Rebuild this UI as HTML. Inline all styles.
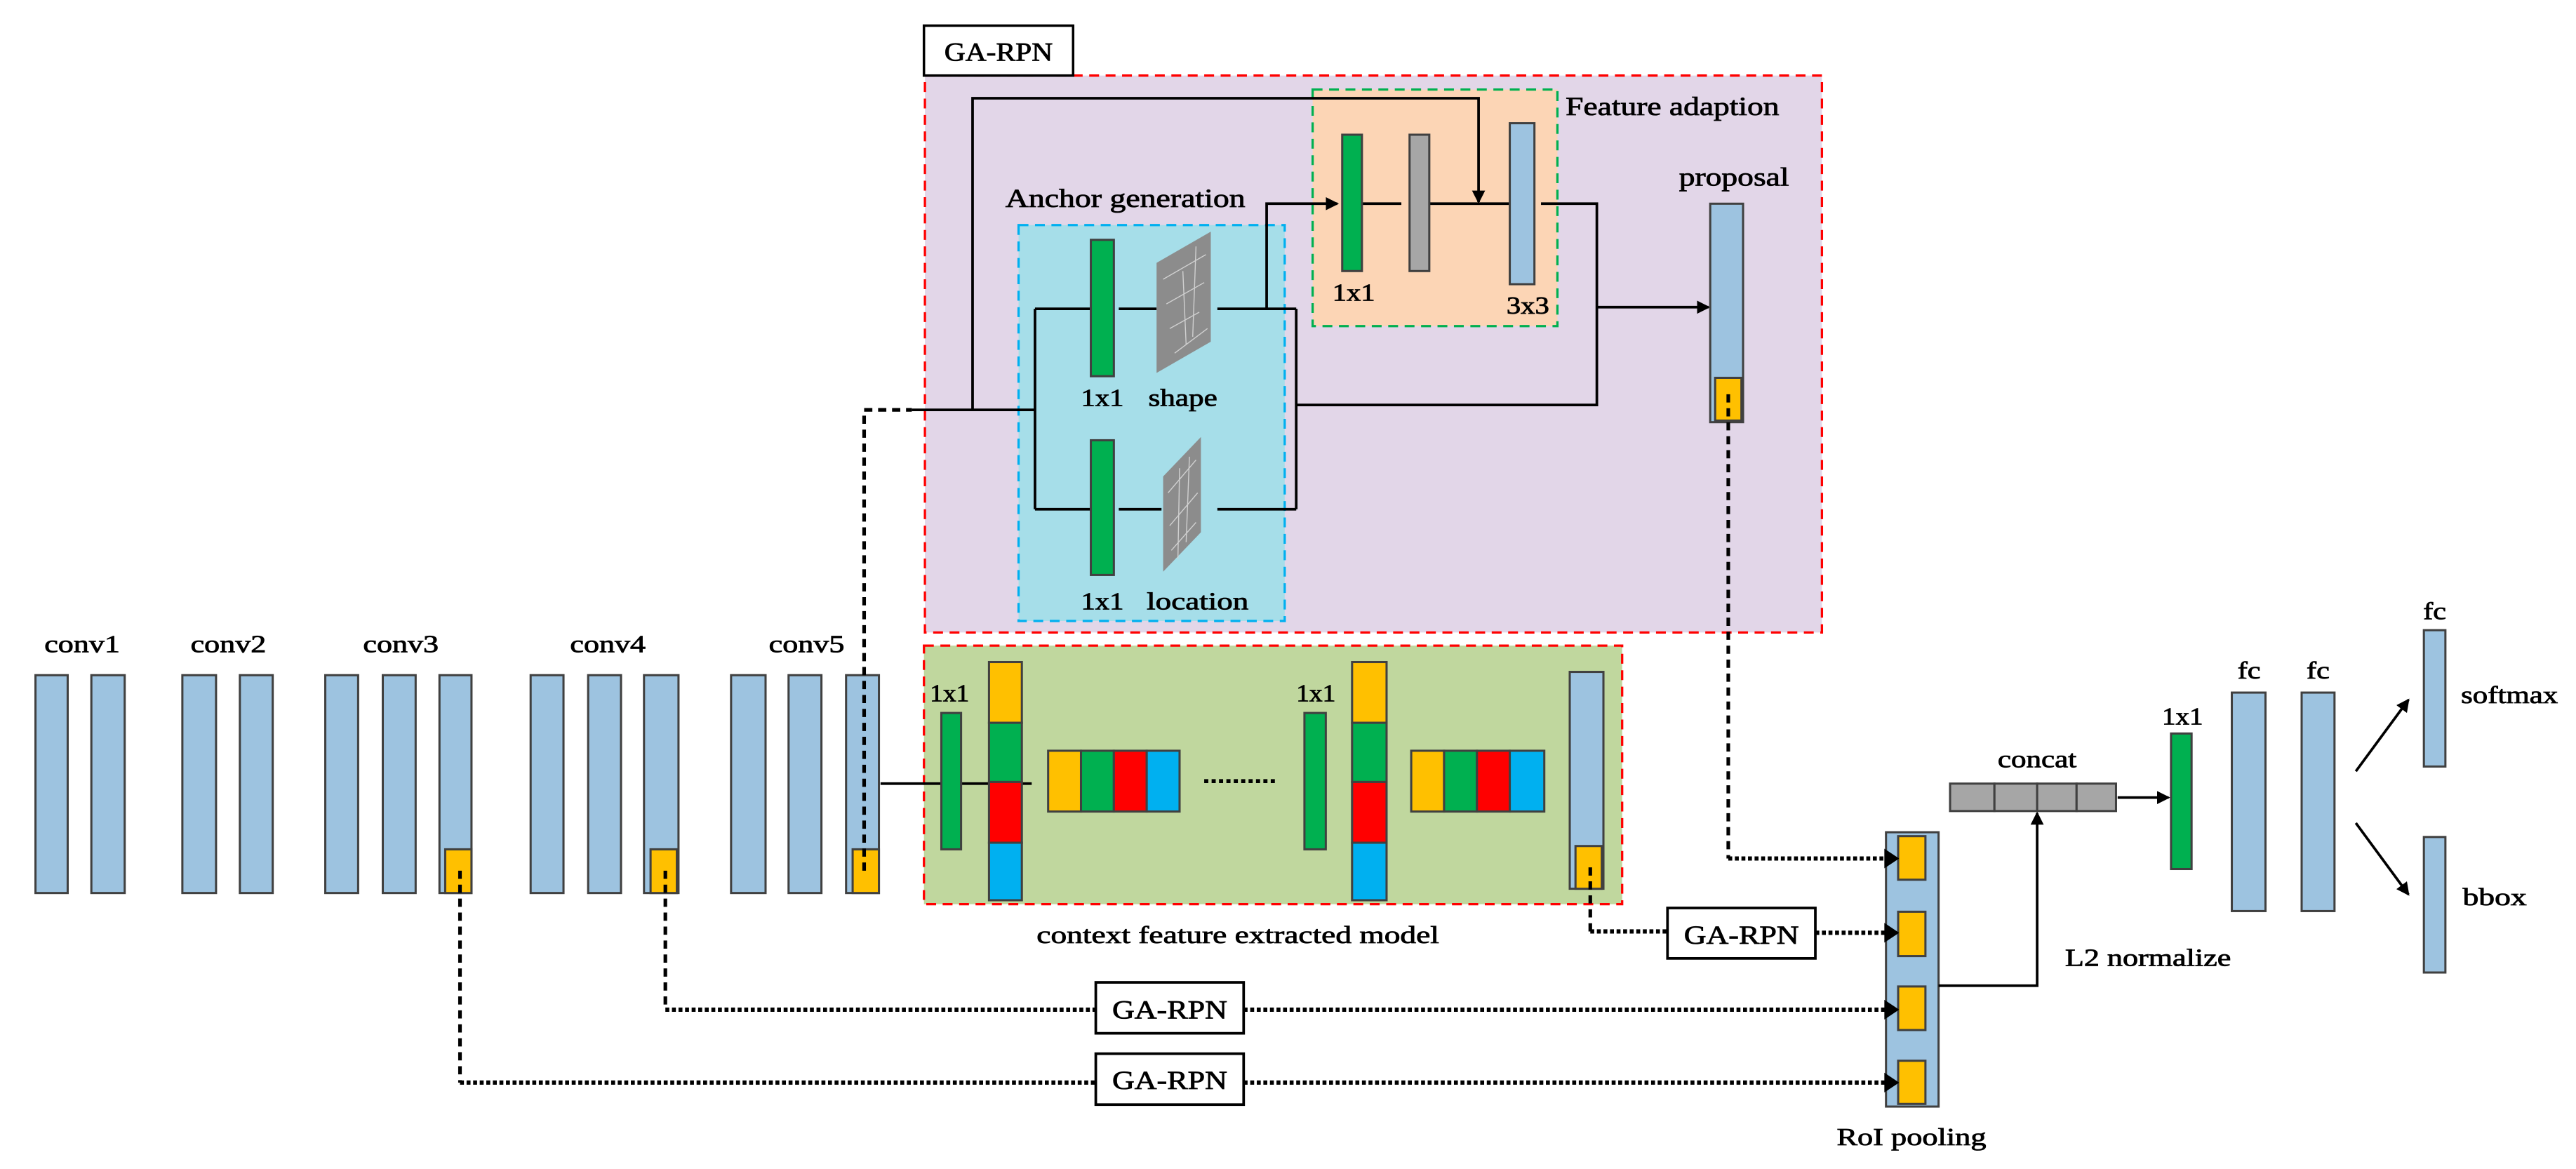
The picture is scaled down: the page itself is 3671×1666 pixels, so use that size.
<!DOCTYPE html>
<html><head><meta charset="utf-8"><style>
html,body{margin:0;padding:0;background:#fff;}
svg{display:block;}
text{font-family:"Liberation Serif",serif;fill:#000;stroke:#000;stroke-width:0.35;}
</style></head><body>
<svg width="3671" height="1666" viewBox="0 0 1568 711.6" preserveAspectRatio="none" xmlns="http://www.w3.org/2000/svg">
<defs>
<marker id="ah" markerWidth="8" markerHeight="8" refX="7" refY="4" orient="auto" markerUnits="userSpaceOnUse">
<path d="M0,0 L8,4 L0,8 Z" fill="#000"/></marker>
</defs>
<g stroke="#404040" stroke-width="1.3">
<rect x="563" y="46" width="546" height="339" fill="#E2D6E8" stroke="#FF0000" stroke-width="1.4" stroke-dasharray="6,4"/>
<rect x="620" y="137" width="162" height="241" fill="#A6DEE9" stroke="#00B0F0" stroke-width="1.4" stroke-dasharray="6,4"/>
<rect x="799" y="54.5" width="149" height="144" fill="#FCD5B5" stroke="#00B050" stroke-width="1.4" stroke-dasharray="6,4"/>
</g>
<rect x="562.4" y="15.6" width="90.8" height="30.4" fill="#fff" stroke="#000" stroke-width="1.5"/>
<text x="607.8" y="37" font-size="16" text-anchor="middle" textLength="66" lengthAdjust="spacingAndGlyphs">GA-RPN</text>
<text x="612" y="126" font-size="16" textLength="146" lengthAdjust="spacingAndGlyphs">Anchor generation</text>
<text x="953" y="70" font-size="16" textLength="130" lengthAdjust="spacingAndGlyphs">Feature adaption</text>
<text x="1022" y="113" font-size="16" textLength="67" lengthAdjust="spacingAndGlyphs">proposal</text>
<g stroke="#000" stroke-width="1.6" fill="none">
<polyline points="555,249.5 630,249.5"/>
<polyline points="630,188 630,310"/>
<polyline points="630,188 664,188"/><polyline points="681,188 704,188"/><polyline points="741,188 789,188"/>
<polyline points="630,310 664,310"/><polyline points="681,310 707,310"/><polyline points="741,310 789,310"/>
<polyline points="789,188 789,310"/>
<polyline points="789,246.5 972,246.5 972,124 938,124"/>
<polyline points="972,187 1040,187" marker-end="url(#ah)"/>
<polyline points="771,188 771,124 814,124" marker-end="url(#ah)"/>
<polyline points="592,249.5 592,59.8 900,59.8 900,123" marker-end="url(#ah)"/>
<polyline points="829,124 853,124"/><polyline points="870,124 919,124"/>
</g>
<g stroke="#404040" stroke-width="1.3">
<rect x="664" y="146" width="14" height="83" fill="#00B050"/>
<rect x="664" y="268" width="14" height="82" fill="#00B050"/>
<rect x="817" y="82" width="12" height="83" fill="#00B050"/>
<rect x="858" y="82" width="12" height="83" fill="#A6A6A6"/>
<rect x="919" y="75" width="15" height="98" fill="#9DC3E0"/>
<rect x="1041" y="124" width="20" height="133" fill="#9DC3E0"/>
<rect x="1044" y="230" width="16" height="26" fill="#FFC000"/>
</g>
<g>
<polygon points="704,160 737,141 737,208 704,227" fill="#8c8c8c"/>
<polygon points="708,290 731,266 731,324 708,348" fill="#8c8c8c"/>
<g stroke="#d0d0d0" stroke-width="0.6" fill="none">
<path d="M708,170 L734,155 M710,185 L733,172 M712,200 L730,190 M715,215 L735,200 M720,165 L722,210 M728,150 L726,205"/>
<path d="M711,300 L728,280 M712,320 L729,300 M713,335 L728,318 M718,285 L717,340 M724,278 L722,330"/>
</g>
</g>
<g font-size="15">
<text x="658" y="247" textLength="26" lengthAdjust="spacingAndGlyphs">1x1</text>
<text x="699" y="247" textLength="42" lengthAdjust="spacingAndGlyphs">shape</text>
<text x="658" y="371" textLength="26" lengthAdjust="spacingAndGlyphs">1x1</text>
<text x="698" y="371" textLength="62" lengthAdjust="spacingAndGlyphs">location</text>
<text x="811" y="183" textLength="26" lengthAdjust="spacingAndGlyphs">1x1</text>
<text x="917" y="191" textLength="26" lengthAdjust="spacingAndGlyphs">3x3</text>
</g>
<g font-size="15">
<text x="27" y="397" textLength="46" lengthAdjust="spacingAndGlyphs">conv1</text>
<text x="116" y="397" textLength="46" lengthAdjust="spacingAndGlyphs">conv2</text>
<text x="221" y="397" textLength="46" lengthAdjust="spacingAndGlyphs">conv3</text>
<text x="347" y="397" textLength="46" lengthAdjust="spacingAndGlyphs">conv4</text>
<text x="468" y="397" textLength="46" lengthAdjust="spacingAndGlyphs">conv5</text>
</g>
<rect x="562.4" y="393" width="425" height="157.4" fill="#C0D79E" stroke="#FF0000" stroke-width="1.4" stroke-dasharray="6,4"/>
<g stroke="#404040" stroke-width="1.3" fill="#9DC3E0">
<rect x="21.6" y="411" width="19.6" height="132.6"/>
<rect x="55.6" y="411" width="20.3" height="132.6"/>
<rect x="111" y="411" width="20.5" height="132.6"/>
<rect x="146" y="411" width="20" height="132.6"/>
<rect x="198" y="411" width="20" height="132.6"/>
<rect x="233" y="411" width="20" height="132.6"/>
<rect x="267.5" y="411" width="19.5" height="132.6"/>
<rect x="323" y="411" width="20" height="132.6"/>
<rect x="358" y="411" width="20" height="132.6"/>
<rect x="392" y="411" width="21" height="132.6"/>
<rect x="445" y="411" width="21" height="132.6"/>
<rect x="480" y="411" width="20" height="132.6"/>
<rect x="515" y="411" width="20" height="132.6"/>
<rect x="955.5" y="409" width="20.5" height="132"/>
</g>
<g stroke="#404040" stroke-width="1.3" fill="#FFC000">
<rect x="271" y="517" width="16" height="26.6"/>
<rect x="396" y="517" width="16" height="26.6"/>
<rect x="519" y="517" width="16" height="26.6"/>
<rect x="959" y="515" width="16" height="26"/>
</g>
<line x1="536" y1="477" x2="628" y2="477" stroke="#000" stroke-width="1.6"/>
<g stroke="#404040" stroke-width="1.3">
<rect x="573" y="434" width="12" height="83" fill="#00B050"/>
<rect x="794" y="434" width="13" height="83" fill="#00B050"/>
<rect x="602" y="403" width="20" height="37" fill="#FFC000"/>
<rect x="602" y="440" width="20" height="36" fill="#00B050"/>
<rect x="602" y="476" width="20" height="37" fill="#FF0000"/>
<rect x="602" y="513" width="20" height="35" fill="#00B0F0"/>
<rect x="823" y="403" width="21" height="37" fill="#FFC000"/>
<rect x="823" y="440" width="21" height="36" fill="#00B050"/>
<rect x="823" y="476" width="21" height="37" fill="#FF0000"/>
<rect x="823" y="513" width="21" height="35" fill="#00B0F0"/>
<rect x="638" y="457" width="20" height="37" fill="#FFC000"/>
<rect x="658" y="457" width="20" height="37" fill="#00B050"/>
<rect x="678" y="457" width="20" height="37" fill="#FF0000"/>
<rect x="698" y="457" width="20" height="37" fill="#00B0F0"/>
<rect x="859" y="457" width="20" height="37" fill="#FFC000"/>
<rect x="879" y="457" width="20" height="37" fill="#00B050"/>
<rect x="899" y="457" width="20" height="37" fill="#FF0000"/>
<rect x="919" y="457" width="21" height="37" fill="#00B0F0"/>
</g>
<line x1="733" y1="475.5" x2="777" y2="475.5" stroke="#000" stroke-width="2.4" stroke-dasharray="2.5,2"/>
<g font-size="15">
<text x="566" y="427" textLength="24" lengthAdjust="spacingAndGlyphs">1x1</text>
<text x="789" y="427" textLength="24" lengthAdjust="spacingAndGlyphs">1x1</text>
<text x="631" y="574" textLength="245" lengthAdjust="spacingAndGlyphs">context  feature extracted model</text>
</g>
<!-- RoI pooling bar (drawn before connectors so arrowheads are on top) -->
<g stroke="#404040" stroke-width="1.3">
<rect x="1148" y="506.6" width="32" height="167" fill="#9DC3E0"/>
<rect x="1155.4" y="509" width="16.6" height="26.5" fill="#FFC000"/>
<rect x="1155.4" y="555" width="16.6" height="27" fill="#FFC000"/>
<rect x="1155.4" y="600.5" width="16.6" height="26.5" fill="#FFC000"/>
<rect x="1155.4" y="645.7" width="16.6" height="26.3" fill="#FFC000"/>
</g>
<g stroke="#000" stroke-width="2.2" fill="none">
<polyline points="526,530 526,249.5 555,249.5" stroke-dasharray="5,3.5"/>
<polyline points="405,530 405,614.6" stroke-dasharray="5,3.5"/>
<polyline points="280,530 280,659" stroke-dasharray="5,3.5"/>
<polyline points="1052,240 1052,522.6" stroke-dasharray="5,3.5"/>
<polyline points="968,528 968,567" stroke-dasharray="5,3.5"/>
<g stroke-dasharray="2.4,1.6" stroke-width="2.6">
<line x1="405" y1="614.6" x2="667" y2="614.6"/>
<line x1="280" y1="659" x2="667" y2="659"/>
<line x1="968" y1="567" x2="1015" y2="567"/>
<line x1="1052" y1="522.6" x2="1150" y2="522.6"/>
<line x1="1105" y1="567.8" x2="1150" y2="567.8"/>
<line x1="757" y1="614.6" x2="1150" y2="614.6"/>
<line x1="757" y1="659" x2="1150" y2="659"/>
</g>
</g>
<g fill="#000">
<path d="M1147,516.6 L1156,522.6 L1147,528.6Z"/>
<path d="M1147,561.8 L1156,567.8 L1147,573.8Z"/>
<path d="M1147,608.6 L1156,614.6 L1147,620.6Z"/>
<path d="M1147,653 L1156,659 L1147,665Z"/>
</g>
<g fill="#fff" stroke="#000" stroke-width="1.6">
<rect x="667" y="598" width="90" height="31"/>
<rect x="667" y="641.4" width="90" height="31"/>
<rect x="1015" y="552.7" width="90" height="30.7"/>
</g>
<g font-size="16" text-anchor="middle">
<text x="712" y="620" textLength="70" lengthAdjust="spacingAndGlyphs">GA-RPN</text>
<text x="712" y="663" textLength="70" lengthAdjust="spacingAndGlyphs">GA-RPN</text>
<text x="1060" y="574.5" textLength="70" lengthAdjust="spacingAndGlyphs">GA-RPN</text>
</g>
<g stroke="#000" stroke-width="1.6" fill="none">
<polyline points="1180,600 1240,600 1240,495" marker-end="url(#ah)"/>
<polyline points="1289,485.5 1320,485.5" marker-end="url(#ah)"/>
<polyline points="1434,469.5 1466,426" marker-end="url(#ah)"/>
<polyline points="1434,501 1466,544.5" marker-end="url(#ah)"/>
</g>
<g stroke="#404040" stroke-width="1.3" fill="#A6A6A6">
<rect x="1187" y="477" width="27" height="16.7"/>
<rect x="1214" y="477" width="26" height="16.7"/>
<rect x="1240" y="477" width="24" height="16.7"/>
<rect x="1264" y="477" width="24" height="16.7"/>
</g>
<g stroke="#404040" stroke-width="1.3">
<rect x="1321.5" y="446.5" width="12.5" height="82.5" fill="#00B050"/>
<rect x="1358.5" y="421.6" width="20.5" height="133" fill="#9DC3E0"/>
<rect x="1401" y="421.6" width="20" height="133" fill="#9DC3E0"/>
<rect x="1475.4" y="383.6" width="13.1" height="83" fill="#9DC3E0"/>
<rect x="1475.4" y="509.5" width="13.1" height="82.5" fill="#9DC3E0"/>
</g>
<g font-size="15">
<text x="1216" y="467" textLength="48" lengthAdjust="spacingAndGlyphs">concat</text>
<text x="1316" y="441" textLength="25" lengthAdjust="spacingAndGlyphs">1x1</text>
<text x="1362" y="413" textLength="14" lengthAdjust="spacingAndGlyphs">fc</text>
<text x="1404" y="413" textLength="14" lengthAdjust="spacingAndGlyphs">fc</text>
<text x="1475" y="377" textLength="14" lengthAdjust="spacingAndGlyphs">fc</text>
<text x="1498" y="428" textLength="59" lengthAdjust="spacingAndGlyphs">softmax</text>
<text x="1499" y="551" textLength="39" lengthAdjust="spacingAndGlyphs">bbox</text>
<text x="1257" y="588" textLength="101" lengthAdjust="spacingAndGlyphs">L2 normalize</text>
<text x="1118" y="697" textLength="91" lengthAdjust="spacingAndGlyphs">RoI pooling</text>
</g>
</svg>
</body></html>
